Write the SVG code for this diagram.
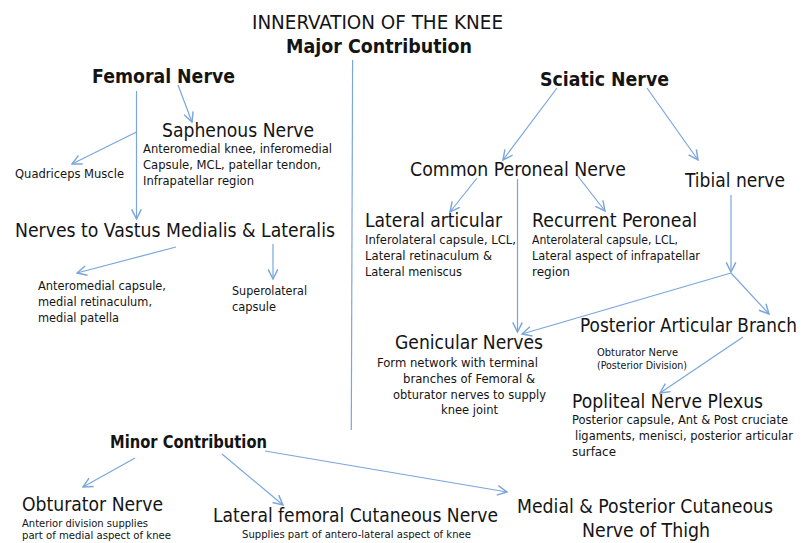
<svg xmlns="http://www.w3.org/2000/svg" width="803" height="543" viewBox="0 0 803 543">
<style>
text{font-family:"DejaVu Sans Condensed","DejaVu Sans",sans-serif;fill:#141414}
.h{font-size:19px}
.b{font-family:"DejaVu Sans",sans-serif;font-size:19.5px;font-weight:bold}
.mb{font-family:"DejaVu Sans",sans-serif;font-size:17px;font-weight:bold}
.s{font-size:13px}
.xs{font-size:10.5px}
.bs{font-size:11px}
.c{stroke:#7aa6dc;stroke-width:1.2;fill:none}
</style>
<defs>
<marker id="ah" markerUnits="userSpaceOnUse" markerWidth="12" markerHeight="12" refX="8" refY="4" orient="auto" viewBox="-1 -1 10 10">
<path d="M0,0 L8,4 L0,8" fill="none" stroke="#7aa6dc" stroke-width="1.2"/>
</marker>
</defs>
<rect width="803" height="543" fill="#ffffff"/>

<g id="connectors" class="c">
<line x1="352.6" y1="60" x2="351.3" y2="430"/>
<line x1="178" y1="85" x2="192" y2="122" marker-end="url(#ah)"/>
<line x1="136.5" y1="91" x2="136.5" y2="219" marker-end="url(#ah)"/>
<line x1="136.5" y1="132" x2="72" y2="164" marker-end="url(#ah)"/>
<line x1="176" y1="247" x2="77" y2="273" marker-end="url(#ah)"/>
<line x1="273" y1="244" x2="273" y2="279" marker-end="url(#ah)"/>
<line x1="557" y1="88" x2="503" y2="160" marker-end="url(#ah)"/>
<line x1="647" y1="88" x2="698" y2="160" marker-end="url(#ah)"/>
<line x1="477" y1="178" x2="450" y2="212" marker-end="url(#ah)"/>
<line x1="517.5" y1="179" x2="517.5" y2="332" marker-end="url(#ah)"/>
<line x1="577" y1="175" x2="605" y2="211" marker-end="url(#ah)"/>
<line x1="731" y1="195" x2="731" y2="272" marker-end="url(#ah)"/>
<line x1="731" y1="273" x2="522" y2="334" marker-end="url(#ah)"/>
<line x1="731" y1="273" x2="769" y2="314" marker-end="url(#ah)"/>
<line x1="743" y1="337" x2="660" y2="393" marker-end="url(#ah)"/>
<line x1="135" y1="458" x2="83" y2="487" marker-end="url(#ah)"/>
<line x1="222" y1="454" x2="283" y2="505" marker-end="url(#ah)"/>
<line x1="265" y1="451" x2="507" y2="492" marker-end="url(#ah)"/>
</g>

<g id="title">
<text class="h" x="252" y="29" textLength="251" lengthAdjust="spacingAndGlyphs">INNERVATION OF THE KNEE</text>
<text class="b" x="286" y="53" textLength="186" lengthAdjust="spacingAndGlyphs">Major Contribution</text>
</g>

<g id="femoral">
<text class="b" x="92" y="83" textLength="143" lengthAdjust="spacingAndGlyphs">Femoral Nerve</text>
</g>

<g id="saphenous">
<text class="h" x="162" y="137" textLength="152" lengthAdjust="spacingAndGlyphs">Saphenous Nerve</text>
<text class="s" x="143" y="153" textLength="189" lengthAdjust="spacingAndGlyphs">Anteromedial knee, inferomedial</text>
<text class="s" x="143" y="169" textLength="178" lengthAdjust="spacingAndGlyphs">Capsule, MCL, patellar tendon,</text>
<text class="s" x="143" y="185" textLength="111" lengthAdjust="spacingAndGlyphs">Infrapatellar region</text>
</g>

<g id="quadriceps">
<text class="s" x="15" y="178" textLength="109" lengthAdjust="spacingAndGlyphs">Quadriceps Muscle</text>
</g>

<g id="vastus">
<text class="h" x="15" y="237" textLength="320" lengthAdjust="spacingAndGlyphs">Nerves to Vastus Medialis &amp; Lateralis</text>
</g>

<g id="anteromedial">
<text class="s" x="38" y="290" textLength="128" lengthAdjust="spacingAndGlyphs">Anteromedial capsule,</text>
<text class="s" x="38" y="306" textLength="114" lengthAdjust="spacingAndGlyphs">medial retinaculum,</text>
<text class="s" x="38" y="322" textLength="81" lengthAdjust="spacingAndGlyphs">medial patella</text>
</g>

<g id="superolateral">
<text class="s" x="232" y="295" textLength="75" lengthAdjust="spacingAndGlyphs">Superolateral</text>
<text class="s" x="232" y="311" textLength="44" lengthAdjust="spacingAndGlyphs">capsule</text>
</g>

<g id="sciatic">
<text class="b" x="540" y="86" textLength="129" lengthAdjust="spacingAndGlyphs">Sciatic Nerve</text>
</g>

<g id="common-peroneal">
<text class="h" x="410" y="176" textLength="216" lengthAdjust="spacingAndGlyphs">Common Peroneal Nerve</text>
</g>

<g id="tibial">
<text class="h" x="685" y="187" textLength="100" lengthAdjust="spacingAndGlyphs">Tibial nerve</text>
</g>

<g id="lateral-articular">
<text class="h" x="365" y="227" textLength="137" lengthAdjust="spacingAndGlyphs">Lateral articular</text>
<text class="s" x="365" y="244" textLength="151" lengthAdjust="spacingAndGlyphs">Inferolateral capsule, LCL,</text>
<text class="s" x="365" y="260" textLength="127" lengthAdjust="spacingAndGlyphs">Lateral retinaculum &amp;</text>
<text class="s" x="365" y="276" textLength="97" lengthAdjust="spacingAndGlyphs">Lateral meniscus</text>
</g>

<g id="recurrent-peroneal">
<text class="h" x="532" y="227" textLength="165" lengthAdjust="spacingAndGlyphs">Recurrent Peroneal</text>
<text class="s" x="532" y="244" textLength="146" lengthAdjust="spacingAndGlyphs">Anterolateral capsule, LCL,</text>
<text class="s" x="532" y="260" textLength="168" lengthAdjust="spacingAndGlyphs">Lateral aspect of infrapatellar</text>
<text class="s" x="532" y="276" textLength="38" lengthAdjust="spacingAndGlyphs">region</text>
</g>

<g id="genicular">
<text class="h" x="395" y="349" textLength="148" lengthAdjust="spacingAndGlyphs">Genicular Nerves</text>
<text class="s" x="377" y="367" textLength="161" lengthAdjust="spacingAndGlyphs">Form network with terminal</text>
<text class="s" x="403" y="383" textLength="132" lengthAdjust="spacingAndGlyphs">branches of Femoral &amp;</text>
<text class="s" x="393" y="399" textLength="153" lengthAdjust="spacingAndGlyphs">obturator nerves to supply</text>
<text class="s" x="441" y="414" textLength="57" lengthAdjust="spacingAndGlyphs">knee joint</text>
</g>

<g id="posterior-articular">
<text class="h" x="580" y="332" textLength="217" lengthAdjust="spacingAndGlyphs">Posterior Articular Branch</text>
<text class="xs" x="597" y="356" textLength="81" lengthAdjust="spacingAndGlyphs">Obturator  Nerve</text>
<text class="xs" x="597" y="369" textLength="90" lengthAdjust="spacingAndGlyphs">(Posterior Division)</text>
</g>

<g id="popliteal">
<text class="h" x="572" y="408" textLength="191" lengthAdjust="spacingAndGlyphs">Popliteal Nerve Plexus</text>
<text class="s" x="572" y="424" textLength="216" lengthAdjust="spacingAndGlyphs">Posterior capsule, Ant &amp; Post cruciate</text>
<text class="s" x="575" y="440" textLength="218" lengthAdjust="spacingAndGlyphs">ligaments, menisci, posterior articular</text>
<text class="s" x="572" y="456" textLength="44" lengthAdjust="spacingAndGlyphs">surface</text>
</g>

<g id="minor">
<text class="mb" x="110" y="448" textLength="157" lengthAdjust="spacingAndGlyphs">Minor Contribution</text>
</g>

<g id="obturator">
<text class="h" x="22" y="511" textLength="141" lengthAdjust="spacingAndGlyphs">Obturator Nerve</text>
<text class="bs" x="22" y="527" textLength="126" lengthAdjust="spacingAndGlyphs">Anterior division supplies</text>
<text class="bs" x="22" y="539" textLength="149" lengthAdjust="spacingAndGlyphs">part of medial aspect of knee</text>
</g>

<g id="lateral-femoral-cutaneous">
<text class="h" x="213" y="522" textLength="285" lengthAdjust="spacingAndGlyphs">Lateral femoral Cutaneous Nerve</text>
<text class="bs" x="242" y="538" textLength="229" lengthAdjust="spacingAndGlyphs">Supplies part of antero-lateral aspect of knee</text>
</g>

<g id="posterior-cutaneous">
<text class="h" x="517" y="513" textLength="256" lengthAdjust="spacingAndGlyphs">Medial &amp; Posterior Cutaneous</text>
<text class="h" x="582" y="537" textLength="128" lengthAdjust="spacingAndGlyphs">Nerve of Thigh</text>
</g>
</svg>
